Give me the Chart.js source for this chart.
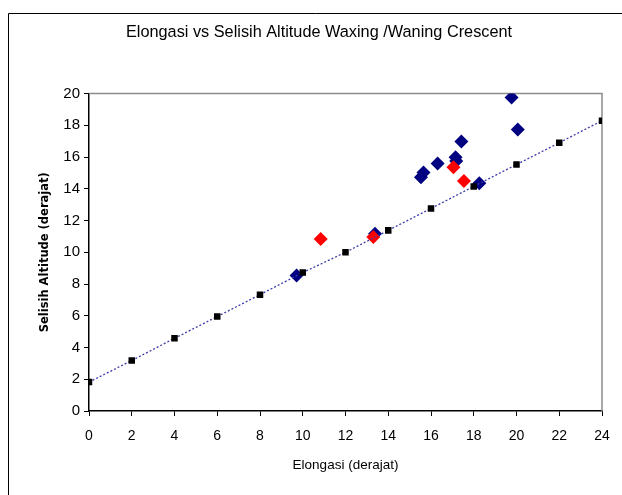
<!DOCTYPE html>
<html>
<head>
<meta charset="utf-8">
<script src="https://cdn.jsdelivr.net/npm/chart.js@4/dist/chart.umd.min.js"></script>
<style>
  html, body { margin: 0; padding: 0; background: #fff; overflow: hidden; }
  #wrap { width: 622px; height: 495px; }
</style>
</head>
<body>
<div id="wrap"><canvas id="elongasiChart" width="622" height="495"></canvas></div>
<script>
  'use strict';

  // garis regresi (titik hitam)
  var trendX = [0, 2, 4, 6, 8, 10, 12, 14, 16, 18, 20, 22, 24];
  var trendY = [1.82, 3.18, 4.58, 5.95, 7.33, 8.72, 10.0, 11.38, 12.76, 14.15, 15.53, 16.9, 18.29];

  // waxing crescent (biru tua)
  var waxingX = [9.71, 13.38, 15.53, 15.65, 16.31, 17.15, 17.18, 17.42, 18.26, 19.77, 20.06];
  var waxingY = [8.54, 11.16, 14.72, 15.02, 15.60, 15.98, 15.75, 16.98, 14.35, 19.75, 17.74];

  // waning crescent (merah)
  var waningX = [10.84, 13.30, 17.05, 17.54];
  var waningY = [10.83, 10.97, 15.35, 14.49];

  var xTicks = [0, 2, 4, 6, 8, 10, 12, 14, 16, 18, 20, 22, 24];
  var yTicks = [0, 2, 4, 6, 8, 10, 12, 14, 16, 18, 20];

  function toPoints(xs, ys) {
    var pts = [], i;
    for (i = 0; i < xs.length; i++) {
      pts.push({ x: xs[i], y: ys[i] });
    }
    return pts;
  }

  var frameAndBorder = {
    id: 'frameAndBorder',
    beforeDraw: function (chart) {
      var ctx = chart.ctx;
      ctx.save();
      ctx.fillStyle = '#fff';
      ctx.fillRect(0, 0, chart.width, chart.height);
      ctx.strokeStyle = '#000';
      ctx.lineWidth = 1;
      ctx.beginPath();
      ctx.moveTo(8.5, chart.height);
      ctx.lineTo(8.5, 13.5);
      ctx.lineTo(chart.width, 13.5);
      ctx.stroke();
      ctx.restore();
    },
    beforeDatasetsDraw: function (chart) {
      var ctx = chart.ctx, a = chart.chartArea;
      ctx.save();
      ctx.strokeStyle = '#8c8c8c';
      ctx.lineWidth = 1.5;
      ctx.beginPath();
      ctx.moveTo(a.left, a.top);
      ctx.lineTo(a.right, a.top);
      ctx.lineTo(a.right, a.bottom);
      ctx.stroke();
      ctx.restore();
    }
  };

  var ctx = document.getElementById('elongasiChart');
  var chart = new Chart(ctx, {
    type: 'scatter',
    data: {
      datasets: [
        {
          label: 'Regresi',
          data: toPoints(trendX, trendY),
          showLine: true,
          borderColor: '#3c3ca8',
          borderWidth: 1.3,
          borderDash: [2, 2],
          pointStyle: 'rect',
          pointRadius: 4.6,
          pointBackgroundColor: '#000',
          pointBorderColor: '#000',
          pointBorderWidth: 0
        },
        {
          label: 'Waning Crescent',
          data: toPoints(waningX, waningY),
          pointStyle: 'rectRot',
          pointRadius: 7,
          backgroundColor: '#ff0000',
          borderColor: '#ff0000',
          borderWidth: 0
        },
        {
          label: 'Waxing Crescent',
          data: toPoints(waxingX, waxingY),
          pointStyle: 'rectRot',
          pointRadius: 7,
          backgroundColor: '#000080',
          borderColor: '#000080',
          borderWidth: 0
        }
      ]
    },
    options: {
      responsive: false,
      animation: false,
      layout: { padding: { left: 36, right: 20, top: 0, bottom: 0 } },
      plugins: {
        legend: { display: false },
        tooltip: { enabled: false },
        title: {
          display: true,
          text: 'Elongasi vs Selisih Altitude Waxing /Waning Crescent',
          color: '#000',
          font: { family: 'Liberation Sans', size: 16.3, weight: 'normal' },
          padding: { top: 23, bottom: 51 }
        }
      },
      scales: {
        x: {
          type: 'linear',
          min: 0,
          max: 24,
          afterBuildTicks: function (scale) {
            scale.ticks = xTicks.map(function (v) { return { value: v }; });
          },
          afterFit: function (scale) { scale.height = 84; },
          grid: { display: true, drawOnChartArea: false, drawTicks: true, tickLength: 5, color: '#000' },
          border: { display: true, color: '#000', width: 1.5 },
          ticks: { color: '#000', padding: 12, font: { family: 'Liberation Sans', size: 14 }, maxRotation: 0 },
          title: {
            display: true,
            text: 'Elongasi (derajat)',
            color: '#000',
            font: { family: 'Liberation Sans', size: 13.5 },
            padding: { top: 0, bottom: 22 }
          }
        },
        y: {
          type: 'linear',
          min: 0,
          max: 20,
          afterBuildTicks: function (scale) {
            scale.ticks = yTicks.map(function (v) { return { value: v }; });
          },
          afterFit: function (scale) { scale.width = 53; },
          grid: { display: true, drawOnChartArea: false, drawTicks: true, tickLength: 5, color: '#000' },
          border: { display: true, color: '#000', width: 1.5 },
          ticks: { color: '#000', padding: 4, font: { family: 'Liberation Sans', size: 15 } },
          title: {
            display: true,
            text: 'Selisih Altitude (derajat)',
            color: '#000',
            font: { family: 'DejaVu Sans', size: 11.5, weight: 'bold' },
            padding: { top: 2, bottom: 0 }
          }
        }
      }
    },
    plugins: [frameAndBorder]
  });
</script>
</body>
</html>
